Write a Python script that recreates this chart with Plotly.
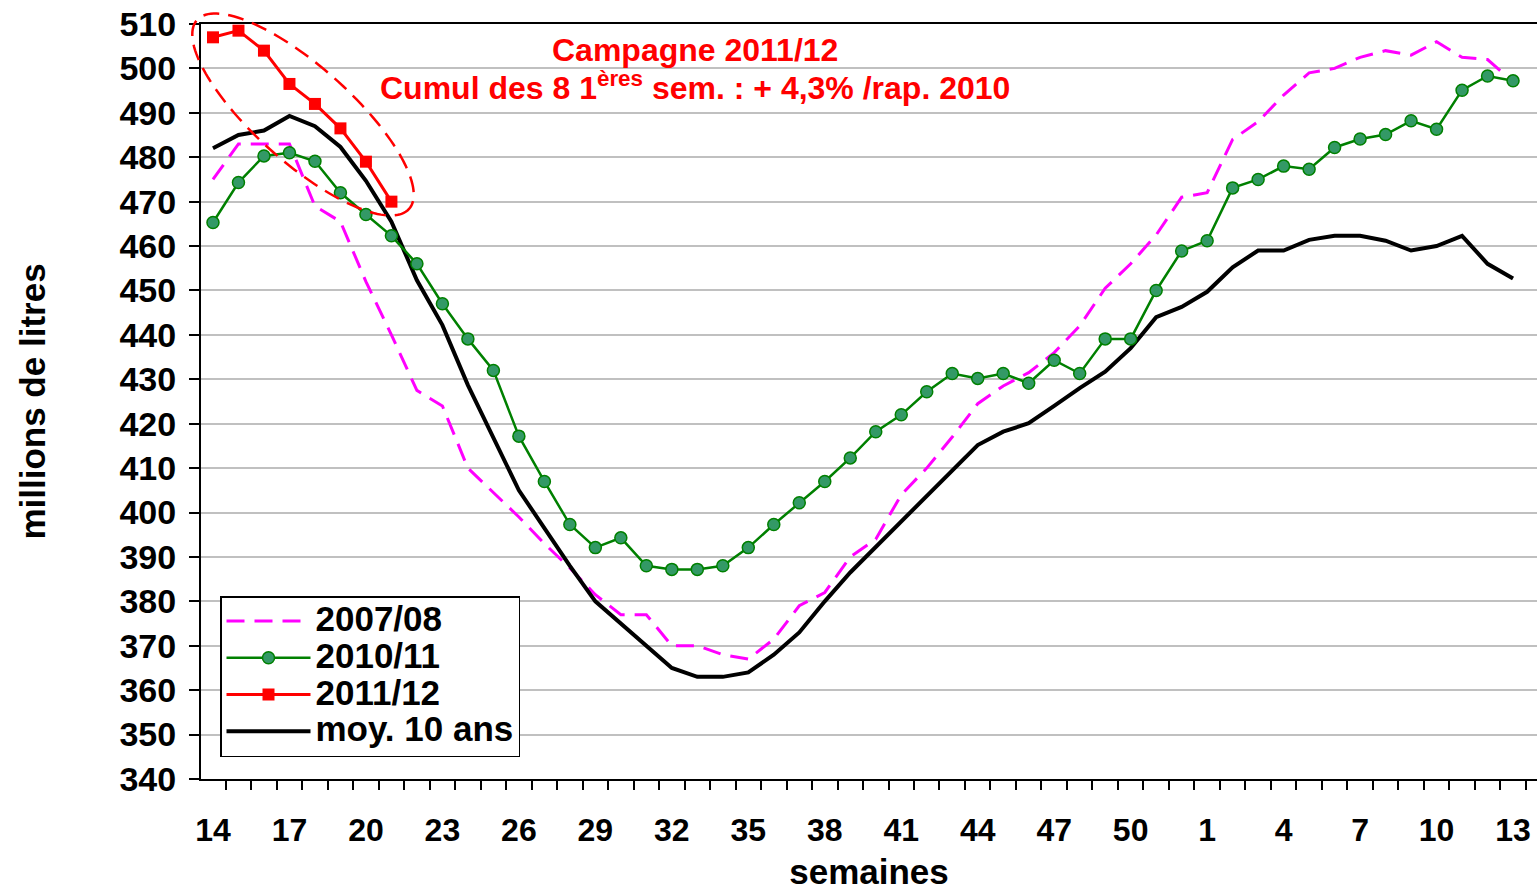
import numpy as np
import plotly.graph_objects as go

# ---------------- data ----------------
weeks = list(range(14, 53)) + list(range(1, 14))

s2007_08 = [475, 483, 483, 483, 469, 465.5, 452, 440, 427.5, 424,
            410, 404.5, 399, 393, 387.5, 381.5, 377, 377, 370, 370,
            368, 367, 371.5, 379, 382, 390, 394, 404, 410, 417,
            424.5, 428.5, 431.5, 436, 442, 450.5, 456, 462.5, 471,
            472, 484, 488, 494, 499, 500, 502.5, 504, 503, 506, 502.5, 502, 497]

s2010_11 = [465.3, 474.3, 480.3, 481, 479.1, 472, 467.1, 462.3, 456, 447,
            439.1, 432, 417.2, 407, 397.3, 392.1, 394.3, 388, 387.2, 387.2,
            388, 392.1, 397.3, 402.2, 407, 412.3, 418.2, 422, 427.2, 431.3,
            430.2, 431.3, 429.1, 434.3, 431.3, 439.1, 439.1, 450, 458.9,
            461.2, 473.1, 475, 478, 477.3, 482.2, 484.1, 485.1, 488.2, 486.3, 495.1, 498.3, 497.2]

s2011_12 = [507, 508.5, 504, 496.5, 492, 486.5, 479, 470]

moy10 = [482, 485, 486, 489.3, 487, 482.3, 474.7, 465.5, 452.3, 442.2,
         428.7, 417, 405, 396.5, 388, 380, 375, 370, 365, 363,
         363, 364, 368, 373, 380, 386.5, 392.3, 398, 403.8, 409.6,
         415.2, 418.2, 420.1, 424, 428, 431.7, 437, 444, 446.3,
         449.7, 455.2, 459, 459, 461.4, 462.3, 462.3, 461.2, 459, 460, 462.3, 456, 452.7]

series_names = ["2007/08", "2010/11", "2011/12", "moy. 10 ans"]

tick_step = 3
y_min, y_max, y_step = 340, 510, 10

# ---------------- geometry ----------------
W, H = 1537, 891
ML, MR, MT, MB = 201, 0, 24, 112
PW, PH = W - ML - MR, H - MT - MB
XR = [-0.47, 51.94]
YR = [y_min, y_max]

FONT = "Liberation Sans, Arial, sans-serif"
x = list(range(len(weeks)))


def leg(name):
    return f'<span style="font-size:35px">{name}</span>'


fig = go.Figure()

fig.add_trace(go.Scatter(
    x=x, y=s2007_08, name=leg(series_names[0]), mode="lines",
    line=dict(color="#FF00FF", width=3, dash="18px,10px"), legendrank=1))
fig.add_trace(go.Scatter(
    x=x, y=moy10, name=leg(series_names[3]), mode="lines",
    line=dict(color="black", width=4), legendrank=4))
fig.add_trace(go.Scatter(
    x=x, y=s2010_11, name=leg(series_names[1]), mode="lines+markers",
    line=dict(color="#008000", width=2.5),
    marker=dict(symbol="circle", size=12, color="#339966",
                line=dict(color="#008000", width=1.5)), legendrank=2))
fig.add_trace(go.Scatter(
    x=x[:len(s2011_12)], y=s2011_12, name=leg(series_names[2]), mode="lines+markers",
    line=dict(color="#FF0000", width=3),
    marker=dict(symbol="square", size=12, color="#FF0000"), legendrank=3))

# ---------------- dashed ellipse around 2011/12 (paper coords, not clipped) ----------------
def px_to_paper(px, py):
    return (px - ML) / PW, (H - MB - py) / PH

cx, cy, ea, eb, th = 303, 114.5, 142, 48, np.deg2rad(41.7)
t = np.linspace(0, 2 * np.pi, 140)
epx = cx + ea * np.cos(t) * np.cos(th) - eb * np.sin(t) * np.sin(th)
epy = cy + ea * np.cos(t) * np.sin(th) + eb * np.sin(t) * np.cos(th)
pts = [px_to_paper(a, b) for a, b in zip(epx, epy)]
path = "M " + " L ".join(f"{a:.5f},{b:.5f}" for a, b in pts) + " Z"
fig.add_shape(type="path", path=path, xref="paper", yref="paper",
              line=dict(color="#FF0000", width=2.5, dash="16px,9px"))

note_font = dict(family=FONT, size=32, color="#FF0000", weight="bold")
fig.add_annotation(
    text="Campagne 2011/12",
    xref="paper", yref="paper", x=(695 - ML) / PW, y=(H - MB - 50) / PH,
    xanchor="center", yanchor="middle", showarrow=False, font=note_font)
fig.add_annotation(
    text="Cumul des 8 1<sup>ères</sup> sem. : + 4,3% /rap. 2010",
    xref="paper", yref="paper", x=(695 - ML) / PW, y=(H - MB - 86) / PH,
    xanchor="center", yanchor="middle", showarrow=False, font=note_font)

fig.update_xaxes(
    range=XR, tickmode="array", tickvals=x[::tick_step],
    ticktext=[str(w) for w in weeks[::tick_step]],
    ticks="", showgrid=False, zeroline=False,
    showline=True, linecolor="black", linewidth=2, mirror=True,
    tickfont=dict(family=FONT, size=32, color="black", weight="bold"),
    ticklabelstandoff=22,
    minor=dict(tickmode="array", tickvals=[i - 0.5 for i in range(len(weeks) + 1)],
               ticks="outside", ticklen=9, tickcolor="black", tickwidth=1.5,
               showgrid=False),
    title=dict(text="semaines", standoff=18,
               font=dict(family=FONT, size=35, color="black", weight="bold")))

fig.update_yaxes(
    range=YR, tickmode="linear", tick0=y_min, dtick=y_step,
    ticks="outside", ticklen=10, tickcolor="black", tickwidth=1.5,
    showgrid=True, gridcolor="#C0C0C0", gridwidth=1.5, zeroline=False,
    showline=True, linecolor="black", linewidth=2,
    tickfont=dict(family=FONT, size=34, color="black", weight="bold"),
    ticklabelstandoff=6,
    title=dict(text="millions de litres", standoff=63,
               font=dict(family=FONT, size=35, color="black", weight="bold")))

fig.update_layout(
    width=W, height=H, margin=dict(l=ML, r=MR, t=MT, b=MB),
    paper_bgcolor="white", plot_bgcolor="white",
    legend=dict(x=(220 - ML) / PW, y=(H - MB - 596) / PH, xanchor="left", yanchor="top",
                bgcolor="white", bordercolor="black", borderwidth=1.5,
                font=dict(family=FONT, size=26, color="black", weight="bold"),
                itemwidth=84, tracegroupgap=0),
    showlegend=True)

fig.write_html("out.html", config={"displayModeBar": False},
               post_script="document.body.style.margin='0';")
